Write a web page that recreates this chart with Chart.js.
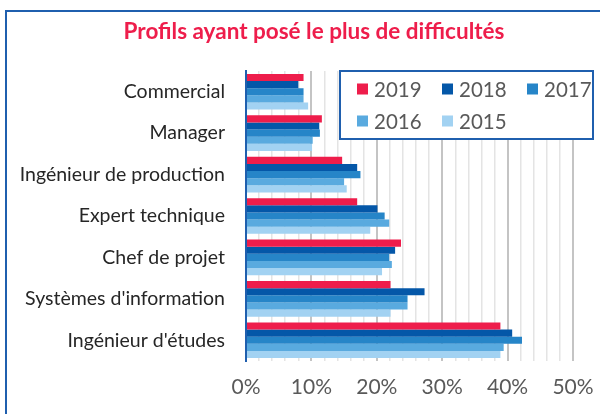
<!DOCTYPE html>
<html>
<head>
<meta charset="utf-8">
<script src="https://cdn.jsdelivr.net/npm/chart.js@4"></script>
<style>
  body { margin: 0; width: 600px; height: 414px; overflow: hidden; background: #fff; }
  #frame { position: absolute; left: 5px; top: 10px; width: 640px; height: 460px; border: 2px solid #1F5FAE; }
  #wrap { position: absolute; left: 0; top: 0; width: 600px; height: 414px; }
</style>
</head>
<body>
<div id="frame"></div>
<div id="wrap"><canvas id="chart"></canvas></div>
<script>
const title = 'Profils ayant posé le plus de difficultés'
const categories = [ 'Commercial', 'Manager', 'Ingénieur de production', 'Expert technique', 'Chef de projet', "Systèmes d'information", "Ingénieur d'études" ]
const years = [ '2019', '2018', '2017', '2016', '2015' ]
const v2019 = [ 8.8, 11.6, 14.7, 17.0, 23.7, 22.1, 38.9 ]
const v2018 = [ 8.0, 11.2, 17.0, 20.1, 22.8, 27.3, 40.7 ]
const v2017 = [ 8.8, 11.3, 17.5, 21.2, 21.9, 24.7, 42.2 ]
const v2016 = [ 8.8, 10.2, 15.0, 21.9, 22.3, 24.7, 39.4 ]
const v2015 = [ 9.5, 10.1, 15.4, 19.0, 20.8, 22.1, 38.9 ]
const colors = [ '#EE1D4B', '#0457A8', '#2685C8', '#59AADF', '#A2D2F2' ]
const xTicks = [ 0, 10, 20, 30, 40, 50 ]

const series = [ v2019, v2018, v2017, v2016, v2015 ]

// title centred on the frame rather than on the plot
const titlePlugin = {
  id: 'frameTitle',
  afterDraw( chart ) {
    const { ctx } = chart
    ctx.save( )
    ctx.font = 'bold 22.5px Lato'
    ctx.fillStyle = '#EE1D4B'
    ctx.textAlign = 'center'
    ctx.textBaseline = 'middle'
    ctx.fillText( title, 314, 32 )
    ctx.restore( )
  }
}

// legend drawn as a framed box over the plot, like the original
const legendBox = {
  id: 'legendBox',
  afterDatasetsDraw( chart ) {
    const { ctx, chartArea } = chart
    const left = chartArea.left + 94
    const top = chartArea.top
    const w = chartArea.right + 20 - left
    const h = 68
    ctx.save( )
    ctx.fillStyle = '#fff'
    ctx.fillRect( left, top, w, h )
    ctx.strokeStyle = '#1F5FAE'
    ctx.lineWidth = 2
    ctx.strokeRect( left, top, w, h )
    ctx.font = '20.5px Lato'
    ctx.textBaseline = 'middle'
    chart.data.datasets.forEach( ( ds, i ) => {
      const col = i % 3
      const row = Math.floor( i / 3 )
      const x = left + 17 + col * 85
      const y = top + 18 + row * 32
      ctx.fillStyle = ds.backgroundColor
      ctx.fillRect( x, y - 5.5, 11, 11 )
      ctx.fillStyle = '#595959'
      ctx.fillText( ds.label, x + 17, y + 1 )
    } )
    ctx.restore( )
  }
}

new Chart( document.getElementById( 'chart' ), {
  type: 'bar',
  data: {
    labels: categories,
    datasets: years.map( ( y, i ) => ( {
      label: y,
      data: series[ i ],
      backgroundColor: colors[ i ],
      borderWidth: 0,
      barPercentage: 1,
      categoryPercentage: 0.86
    } ) )
  },
  options: {
    indexAxis: 'y',
    responsive: true,
    maintainAspectRatio: false,
    animation: false,
    events: [ ],
    layout: { padding: { left: 0, right: 27, top: 71, bottom: 0 } },
    plugins: {
      legend: { display: false },
      tooltip: { enabled: false },
      title: { display: false }
    },
    scales: {
      x: {
        min: 0,
        max: 50,
        afterFit: ( scale ) => {
          scale.height = 53
          scale.paddingLeft = 0
          scale.paddingRight = 0
        },
        border: { display: false },
        grid: {
          drawTicks: false,
          color: ( c ) => xTicks.includes( c.tick.value ) ? '#C4C4C4' : '#E4E4E4',
          lineWidth: ( c ) => xTicks.includes( c.tick.value ) ? 2 : 1.5
        },
        ticks: {
          stepSize: 2,
          autoSkip: false,
          maxRotation: 0,
          padding: 14,
          color: '#595959',
          font: { family: 'Lato', size: 21 },
          callback: ( v ) => xTicks.includes( v ) ? v + '%' : ''
        }
      },
      y: {
        afterFit: ( scale ) => { scale.width = 246 },
        border: { color: '#1F5FAE', width: 2 },
        grid: { display: false, drawTicks: false },
        ticks: {
          padding: 21,
          color: '#262626',
          font: { family: 'Lato', size: 19.5 }
        }
      }
    }
  },
  plugins: [ legendBox, titlePlugin ]
} )
</script>
</body>
</html>
